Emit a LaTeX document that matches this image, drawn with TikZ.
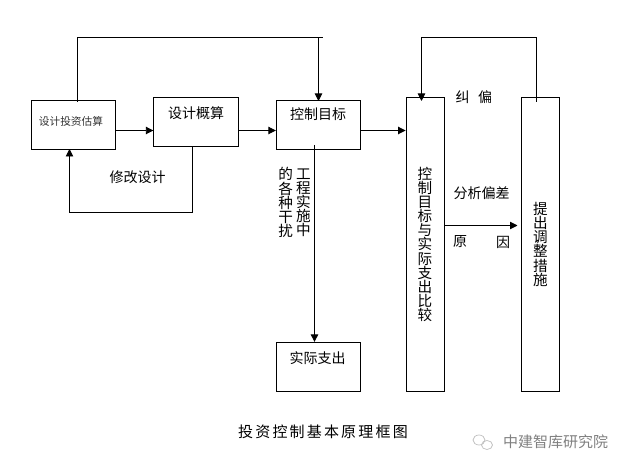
\documentclass[tikz,border=0pt]{standalone}
\usepackage{fontspec}
\setmainfont{Noto Sans CJK SC}
\usetikzlibrary{arrows.meta}
\tikzset{
  box/.style={draw=black,line width=.9pt,inner sep=0pt,align=center,font=\vtxt},
  wide/.style={box,minimum width=84.5pt,minimum height=49pt},
  tall/.style={box,minimum width=38pt,minimum height=294pt},
  lbl/.style={inner sep=0pt,font=\fontsize{14}{14}\selectfont},
  vlbl/.style={inner sep=0pt,align=center,font=\vtxt},
  conn/.style={line width=.9pt,draw=black},
  arr/.style={conn,-{Triangle[length=7.5pt,width=7.5pt]}},
}
\newcommand{\vtxt}{\fontsize{14.6}{14.1}\selectfont}
\begin{document}
\begin{tikzpicture}[x=1pt,y=-1pt]
\useasboundingbox (0,0) rectangle (627,468);
% boxes
\node[wide] (a) at (73.25,124.7) {};
\node[wide] (b) at (196,122) {};
\node[wide] (c) at (318.5,124.7) {};
\node[wide] (f) at (318.5,366.8) {};
\node[tall] (d) at (425,244.4) {控\\制\\目\\标\\与\\实\\际\\支\\出\\比\\较};
\node[tall] (e) at (540.5,244.4) {提\\出\\调\\整\\措\\施};
\coordinate (dfix) at (425.5,244.4);
% labels
\node[inner sep=0pt,font=\fontsize{10.7}{11}\selectfont,text=black!80] (ta) at (71,121) {设计投资估算};
\node[lbl] (tb) at (196,113) {设计概算};
\node[lbl] (tc) at (318,114) {控制目标};
\node[lbl] (tf) at (317.5,358) {实际支出};
\node[lbl] (tm) at (137.5,177) {修改设计};
\node[vlbl] (v1) at (303.5,202.5) {工\\程\\实\\施\\中};
\node[vlbl] (v2) at (285.7,202.5) {的\\各\\种\\干\\扰};
\node[lbl] (j1) at (462.7,97) {纠};
\node[lbl] (j2) at (485,97) {偏};
\node[lbl] (fx) at (481.5,193) {分析偏差};
\node[lbl] (y1) at (460,242) {原};
\node[lbl] (y2) at (503,242) {因};
\node[inner sep=0pt,font=\fontsize{15}{15}\selectfont\addfontfeature{LetterSpace=14.5}] (cap) at (323,432) {投资控制基本原理框图};
\node[inner sep=0pt,font=\fontsize{15}{15}\selectfont,text=black!50] (wm) at (555.5,442) {中建智库研究院};
% watermark icon
\draw[black!25,line width=.7pt] (479,440) ellipse (6pt and 5pt);
\draw[black!25,line width=.7pt] (487,445) ellipse (5.5pt and 4.5pt);
% connector points
\coordinate (p1) at (77.5,102);
\coordinate (p2) at (77.5,37.5);
\coordinate (p3) at (322.5,37.5);
\coordinate (p4) at (318.5,37.5);
\coordinate (q1) at (536.5,102);
\coordinate (q2) at (536.5,37.5);
\coordinate (q3) at (421.5,37.5);
\coordinate (r1) at (192.5,146.5);
\coordinate (r2) at (192.5,212);
\coordinate (r3) at (69.5,212);
\coordinate (s1) at (314.5,145);
\coordinate (t1) at (517.5,225.5);
% connectors
\draw[conn] (p1) -- (p2) -- (p3);
\draw[arr] (p4) -- (318.5,101);
\draw[conn] (q1) -- (q2) -- (q3);
\draw[arr] (q3) -- (421.5,101);
\draw[arr] (a.east |- 0,130.5) -- (b.west |- 0,130.5);
\draw[arr] (b.east |- 0,130.5) -- (c.west |- 0,130.5);
\draw[arr] (c.east |- 0,130.5) -- (d.west |- 0,130.5);
\draw[arr] (r1) -- (r2) -- (r3) -- (69.5,149);
\draw[arr] (s1) -- (f.north -| s1);
\draw[arr] (d.east |- t1) -- (t1);
\end{tikzpicture}
\end{document}
